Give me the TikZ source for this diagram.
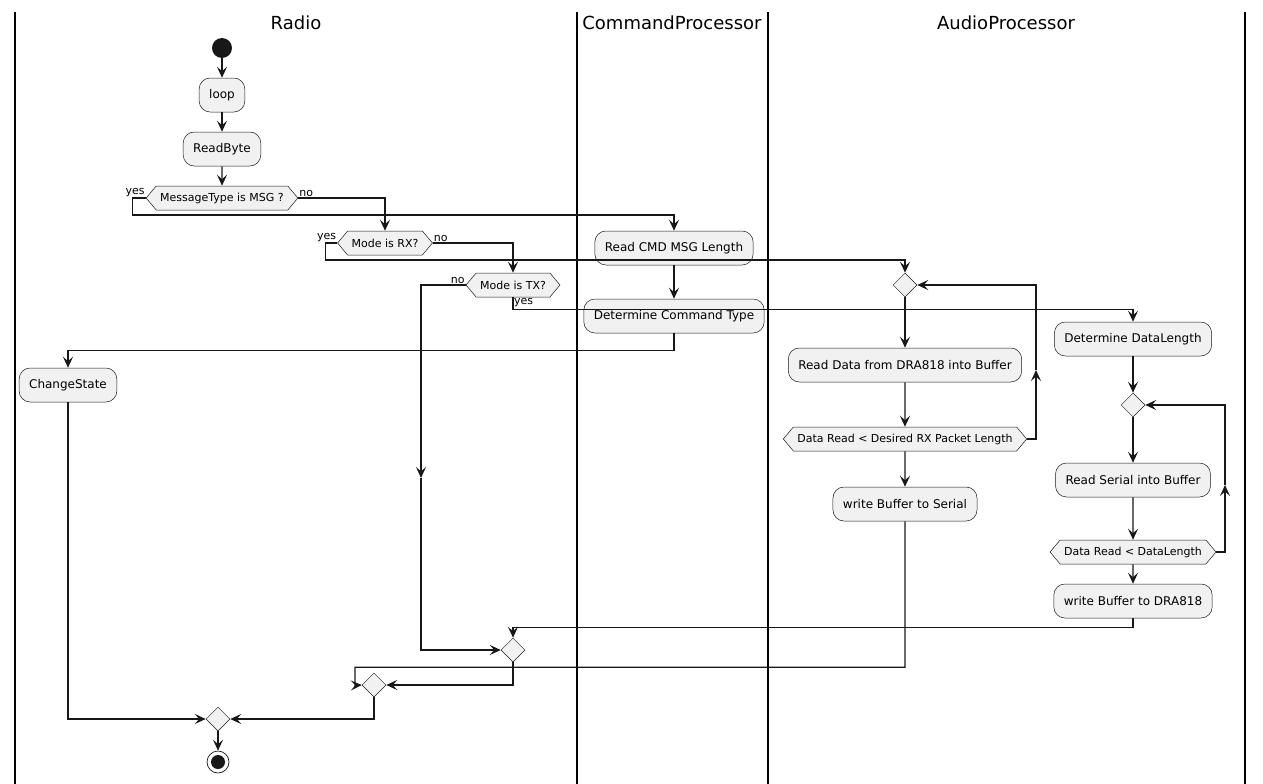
\documentclass[tikz,border=0pt]{standalone}
\usepackage{fontspec}
\setmainfont{DejaVu Sans}
\usepackage{xcolor}
\definecolor{actfill}{HTML}{F1F1F1}
\definecolor{lineclr}{HTML}{181818}
\usepackage{tikz}
\usetikzlibrary{positioning}
\usetikzlibrary{shapes.geometric,shapes.symbols}
\usetikzlibrary{arrows.meta}
\tikzset{>={Stealth[length=11pt,width=10pt,inset=4.5pt]}}

\begin{document}
\begin{tikzpicture}[x=1pt,y=-1pt,
  act/.style={draw=lineclr,fill=actfill,line width=0.5pt,rounded corners=11pt,minimum height=34pt,inner xsep=10pt,font=\fontsize{12}{14}\selectfont},
  cond/.style={draw=lineclr,fill=actfill,line width=0.5pt,signal,signal to=east and west,signal pointer angle=100,minimum height=24pt,inner xsep=4pt,font=\fontsize{11}{13}\selectfont},
  merge/.style={draw=lineclr,fill=actfill,line width=0.5pt,diamond,minimum size=24pt,inner sep=0pt},
  flow/.style={draw=lineclr,line width=1.1pt,->},
  lbl/.style={inner sep=1pt,font=\fontsize{11}{13}\selectfont},
  title/.style={font=\fontsize{18}{21}\selectfont},
  lane/.style={draw=black,line width=1.2pt}]
  \useasboundingbox (0,0) rectangle (1263,784);
  \draw[lane] (15,12) -- (15,784);
  \draw[lane] (577,12) -- (577,784);
  \draw[lane] (768,12) -- (768,784);
  \draw[lane] (1245,12) -- (1245,784);
  \node[title] (radiolane) at (296,23) {Radio};
  \node[title] (cmdlane) at (672,23) {CommandProcessor};
  \node[title] (audiolane) at (1006,23) {AudioProcessor};

  \node[circle,fill=lineclr,minimum size=20pt,inner sep=0pt] (start) at (222,48) {};
  \node[act] (loop) at (222,95) {loop};
  \node[act] (readbyte) at (222,149) {ReadByte};
  \node[cond] (msgtype) at (222,198) {MessageType is MSG ?};
  \node[cond] (rxq) at (385,243) {Mode is RX?};
  \node[cond] (txq) at (513,285) {Mode is TX?};
  \node[act] (cmdlen) at (674,248) {Read CMD MSG Length};
  \node[act] (cmdtype) at (674,316) {Determine Command Type};
  \node[act] (chstate) at (68,385) {ChangeState};
  \node[merge] (rxloop) at (905,285) {};
  \node[act] (readdra) at (905,365) {Read Data from DRA818 into Buffer};
  \node[cond] (rxcond) at (905,439) {Data Read < Desired RX Packet Length};
  \node[act] (toserial) at (905,504) {write Buffer to Serial};
  \node[act] (datalen) at (1133,339) {Determine DataLength};
  \node[merge] (txloop) at (1133,405) {};
  \node[act] (readser) at (1133,480) {Read Serial into Buffer};
  \node[cond] (txcond) at (1133,552) {Data Read < DataLength};
  \node[act] (todra) at (1133,601) {write Buffer to DRA818};
  \node[merge] (mergetx) at (513,650) {};
  \node[merge] (mergerx) at (374,685) {};
  \node[merge] (mergeall) at (218,719) {};
  \node[circle,draw=lineclr,fill=white,line width=0.7pt,minimum size=22pt,inner sep=0pt] (stop) at (218,762) {};
  \fill[lineclr] (stop.center) circle[radius=7pt];

  \node[lbl,anchor=south east] (msgyes) at (msgtype.west) {yes};
  \node[lbl,anchor=south west] (msgno) at (msgtype.east) {no};
  \node[lbl,anchor=south east] (rxyes) at (rxq.west) {yes};
  \node[lbl,anchor=south west] (rxno) at (rxq.east) {no};
  \node[lbl,anchor=south east] (txno) at (txq.west) {no};
  \node[lbl,anchor=north west] (txyes) at (txq.south) {yes};

  \coordinate (txdown) at (421,478);
  \coordinate (rxup) at (1036,370);
  \coordinate (txup) at (1225,485);

  \draw[flow] (start) -- (loop);
  \draw[flow] (loop) -- (readbyte);
  \draw[flow] (readbyte) -- (msgtype);
  \draw[flow] (msgtype.west) -- ++(-13,0) -- ++(0,17) -| (cmdlen.north);
  \draw[flow] (msgtype.east) -| (rxq.north);
  \draw[flow] (rxq.west) -- ++(-12,0) -- ++(0,17) -| (rxloop.north);
  \draw[flow] (rxq.east) -| (txq.north);
  \draw[flow] (txq.west) -| (txdown);
  \draw[flow] (txdown) |- (mergetx.west);
  \draw[flow] (txq.south) -- ++(0,12) -| (datalen.north);
  \draw[flow] (cmdlen) -- (cmdtype);
  \draw[flow] (cmdtype.south) -- ++(0,17) -| (chstate.north);
  \draw[flow] (chstate.south) |- (mergeall.west);
  \draw[flow] (rxloop) -- (readdra);
  \draw[flow] (readdra) -- (rxcond);
  \draw[flow] (rxcond.east) -| (rxup);
  \draw[flow] (rxup) |- (rxloop.east);
  \draw[flow] (rxcond) -- (toserial);
  \draw[flow] (toserial.south) -- ++(0,146) -- ++(-550,0) -- ++(0,18) -- (mergerx.west);
  \draw[flow] (datalen) -- (txloop);
  \draw[flow] (txloop) -- (readser);
  \draw[flow] (readser) -- (txcond);
  \draw[flow] (txcond.east) -| (txup);
  \draw[flow] (txup) |- (txloop.east);
  \draw[flow] (txcond) -- (todra);
  \draw[flow] (todra.south) -- ++(0,9) -| (mergetx.north);
  \draw[flow] (mergetx.south) |- (mergerx.east);
  \draw[flow] (mergerx.south) |- (mergeall.east);
  \draw[flow] (mergeall) -- (stop);
\end{tikzpicture}
\end{document}
